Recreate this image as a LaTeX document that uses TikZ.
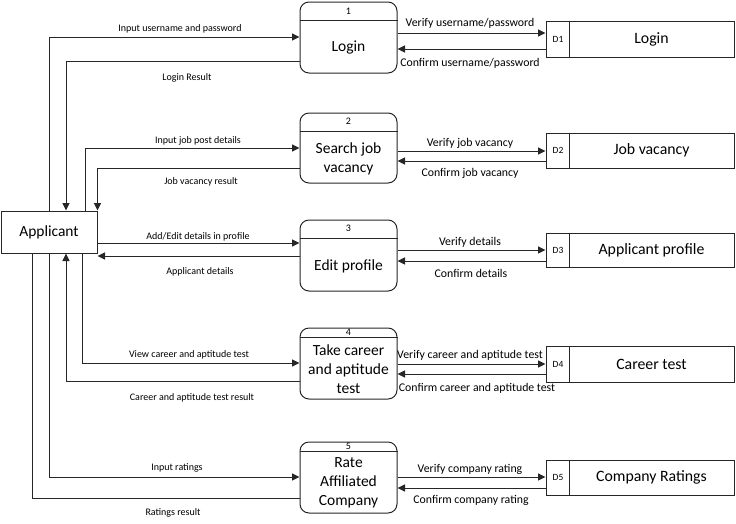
\documentclass[tikz,border=0pt]{standalone}
\usepackage{fontspec}
\setmainfont{Carlito}
\usetikzlibrary{arrows.meta}
\begin{document}
\begin{tikzpicture}[x=1pt,y=-1pt,
  line/.style={draw=black!85, line width=1pt},
  flow/.style={line, -{Triangle[length=7.5pt,width=7pt]}},
  proc/.style={line, rounded corners=9pt, minimum width=97pt, inner sep=0pt},
  ext/.style={line, minimum width=96pt, minimum height=42pt, inner sep=0pt, font=\fontsize{15.5}{18}\selectfont},
  store/.style={line, minimum width=188pt, minimum height=36pt, inner sep=0pt},
  ptext/.style={align=center, font=\fontsize{15.5}{19}\selectfont, inner sep=0pt, yshift=-1pt},
  pnum/.style={font=\fontsize{10}{11}\selectfont, inner sep=0pt},
  stext/.style={font=\fontsize{15.8}{18}\selectfont, inner sep=0pt},
  sid/.style={font=\fontsize{9.5}{10}\selectfont, inner sep=0pt},
  llab/.style={font=\fontsize{10}{12}\selectfont, inner sep=0pt, yshift=-1.5pt},
  rlab/.style={font=\fontsize{11.8}{14}\selectfont, inner sep=0pt, yshift=-1pt}]
\useasboundingbox (0,0) rectangle (736,523);

% external entity
\node[ext] (app) at (49,232) {Applicant};

% processes: box, header rule, number, title
\node[proc, minimum height=71pt] (p1) at (348.5,37.5) {};
\draw[line] (p1.west |- 0,20) -- (p1.east |- 0,20);
\node[pnum] (n1) at (348.5,11) {1};
\node[ptext] (t1) at (348.5,46) {Login};

\node[proc, minimum height=70pt] (p2) at (348.5,148) {};
\draw[line] (p2.west |- 0,131) -- (p2.east |- 0,131);
\node[pnum] (n2) at (348.5,121) {2};
\node[ptext] (t2) at (348.5,157.5) {Search job\\vacancy};

\node[proc, minimum height=71pt] (p3) at (348.5,255.5) {};
\draw[line] (p3.west |- 0,238) -- (p3.east |- 0,238);
\node[pnum] (n3) at (348.5,228) {3};
\node[ptext] (t3) at (348.5,265) {Edit profile};

\node[proc, minimum height=71pt] (p4) at (348.5,363.5) {};
\draw[line] (p4.west |- 0,337) -- (p4.east |- 0,337);
\node[pnum] (n4) at (348.5,332) {4};
\node[ptext] (t4) at (348.5,368) {Take career\\and aptitude\\test};

\node[proc, minimum height=71pt] (p5) at (348.5,477.5) {};
\draw[line] (p5.west |- 0,451) -- (p5.east |- 0,451);
\node[pnum] (n5) at (348.5,446) {5};
\node[ptext] (t5) at (348.5,482) {Rate\\Affiliated\\Company};

% data stores
\foreach \i/\y/\h/\name in {1/39/36/Login, 2/150.5/35/Job vacancy, 3/250/34/Applicant profile, 4/364/36/Career test, 5/477.5/35/Company Ratings}{
  \node[store, minimum height=\h pt] (d\i) at (640,\y) {};
  \draw[line] (569,0 |- d\i.north) -- (569,0 |- d\i.south);
  \node[sid] (d\i-id) at (558,\y) {D\i};
  \node[stext] (d\i-name) at (651.5,\y) {\name};
}

% flows between the applicant and the processes
\draw[flow] (app.north -| 49,0) |- (p1.west |- 0,37);
\draw[flow] (p1.west |- 0,61) -| (app.north -| 66,0);
\draw[flow] (app.north -| 85,0) |- (p2.west |- 0,148);
\draw[flow] (p2.west |- 0,168) -| (app.north east);
\draw[flow] (app.east |- 0,243) -- (p3.west |- 0,243);
\draw[flow] (p3.west |- 0,256) -- (app.east |- 0,256);
\draw[flow] (app.south -| 82,0) |- (p4.west |- 0,363);
\draw[flow] (p4.west |- 0,381) -| (app.south -| 66,0);
\draw[flow] (app.south -| 49,0) |- (p5.west |- 0,477);
\draw[line] (p5.west |- 0,498) -| (app.south -| 32,0);

\node[llab] (l1a) at (180,27) {Input username and password};
\node[llab] (l1b) at (187,76) {Login Result};
\node[llab] (l2a) at (198,139) {Input job post details};
\node[llab] (l2b) at (201,180) {Job vacancy result};
\node[llab] (l3a) at (198,235) {Add/Edit details in profile};
\node[llab] (l3b) at (200,270) {Applicant details};
\node[llab] (l4a) at (189,353) {View career and aptitude test};
\node[llab] (l4b) at (192,396) {Career and aptitude test result};
\node[llab] (l5a) at (177,466) {Input ratings};
\node[llab] (l5b) at (173,511) {Ratings result};

% flows between the processes and the data stores
\draw[flow] (p1.east |- 0,33) -- (d1.west |- 0,33);
\draw[flow] (d1.west |- 0,49) -- (p1.east |- 0,49);
\draw[flow] (p2.east |- 0,151) -- (d2.west |- 0,151);
\draw[flow] (d2.west |- 0,161) -- (p2.east |- 0,161);
\draw[flow] (p3.east |- 0,250) -- (d3.west |- 0,250);
\draw[flow] (d3.west |- 0,261) -- (p3.east |- 0,261);
\draw[flow] (p4.east |- 0,364) -- (d4.west |- 0,364);
\draw[flow] (d4.west |- 0,374) -- (p4.east |- 0,374);
\draw[flow] (p5.east |- 0,477) -- (d5.west |- 0,477);
\draw[flow] (d5.west |- 0,488) -- (p5.east |- 0,488);

\node[rlab] (r1a) at (470,22) {Verify username/password};
\node[rlab] (r1b) at (470,62) {Confirm username/password};
\node[rlab] (r2a) at (470,142) {Verify job vacancy};
\node[rlab] (r2b) at (470,172) {Confirm job vacancy};
\node[rlab] (r3a) at (470,241) {Verify details};
\node[rlab] (r3b) at (471,272) {Confirm details};
\node[rlab] (r4a) at (470,354) {Verify career and aptitude test};
\node[rlab] (r4b) at (477,387) {Confirm career and aptitude test};
\node[rlab] (r5a) at (470,468) {Verify company rating};
\node[rlab] (r5b) at (471,499) {Confirm company rating};
\end{tikzpicture}
\end{document}
